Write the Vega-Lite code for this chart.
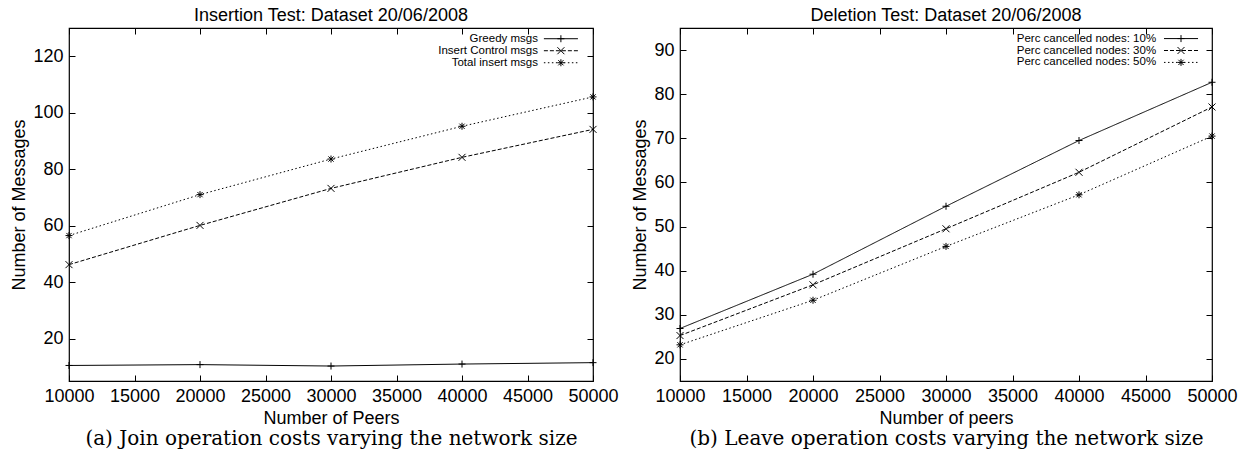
{
  "$schema": "https://vega.github.io/schema/vega-lite/v6.json",
  "background": "white",
  "padding": {"left": 10, "top": 5, "right": 5, "bottom": 3},
  "spacing": 12,
  "datasets": {
    "ins": [
      {"peers": 10000, "msgs": 10.5, "series": "Greedy msgs"},
      {"peers": 20000, "msgs": 10.8, "series": "Greedy msgs"},
      {"peers": 30000, "msgs": 10.3, "series": "Greedy msgs"},
      {"peers": 40000, "msgs": 11.0, "series": "Greedy msgs"},
      {"peers": 50000, "msgs": 11.5, "series": "Greedy msgs"},
      {"peers": 10000, "msgs": 46.2, "series": "Insert Control msgs"},
      {"peers": 20000, "msgs": 60.1, "series": "Insert Control msgs"},
      {"peers": 30000, "msgs": 73.2, "series": "Insert Control msgs"},
      {"peers": 40000, "msgs": 84.2, "series": "Insert Control msgs"},
      {"peers": 50000, "msgs": 94.1, "series": "Insert Control msgs"},
      {"peers": 10000, "msgs": 56.5, "series": "Total insert msgs"},
      {"peers": 20000, "msgs": 71.0, "series": "Total insert msgs"},
      {"peers": 30000, "msgs": 83.6, "series": "Total insert msgs"},
      {"peers": 40000, "msgs": 95.2, "series": "Total insert msgs"},
      {"peers": 50000, "msgs": 105.6, "series": "Total insert msgs"}
    ],
    "del": [
      {"peers": 10000, "msgs": 26.9, "series": "Perc cancelled nodes: 10%"},
      {"peers": 20000, "msgs": 39.2, "series": "Perc cancelled nodes: 10%"},
      {"peers": 30000, "msgs": 54.6, "series": "Perc cancelled nodes: 10%"},
      {"peers": 40000, "msgs": 69.5, "series": "Perc cancelled nodes: 10%"},
      {"peers": 50000, "msgs": 82.7, "series": "Perc cancelled nodes: 10%"},
      {"peers": 10000, "msgs": 25.3, "series": "Perc cancelled nodes: 30%"},
      {"peers": 20000, "msgs": 36.8, "series": "Perc cancelled nodes: 30%"},
      {"peers": 30000, "msgs": 49.5, "series": "Perc cancelled nodes: 30%"},
      {"peers": 40000, "msgs": 62.3, "series": "Perc cancelled nodes: 30%"},
      {"peers": 50000, "msgs": 77.1, "series": "Perc cancelled nodes: 30%"},
      {"peers": 10000, "msgs": 23.2, "series": "Perc cancelled nodes: 50%"},
      {"peers": 20000, "msgs": 33.3, "series": "Perc cancelled nodes: 50%"},
      {"peers": 30000, "msgs": 45.5, "series": "Perc cancelled nodes: 50%"},
      {"peers": 40000, "msgs": 57.2, "series": "Perc cancelled nodes: 50%"},
      {"peers": 50000, "msgs": 70.5, "series": "Perc cancelled nodes: 50%"}
    ]
  },
  "config": {
    "font": "Liberation Sans",
    "view": {"stroke": "black", "strokeWidth": 1.2},
    "axis": {
      "domain": false, "grid": false,
      "tickColor": "black", "tickWidth": 1, "tickSize": -6,
      "labelFont": "Liberation Sans", "labelFontSize": 18, "labelColor": "black",
      "labelOverlap": false, "labelFlush": false,
      "titleFont": "Liberation Sans", "titleFontSize": 18, "titleFontWeight": "normal", "titleColor": "black",
      "labelPadding": 12, "titlePadding": 4
    },
    "title": {"font": "Liberation Sans", "fontSize": 18, "fontWeight": "normal", "color": "black"},
    "point": {"filled": false, "color": "black", "size": 49, "strokeWidth": 1, "opacity": 1},
    "rule": {"color": "black", "strokeWidth": 1},
    "text": {"font": "Liberation Sans", "fontSize": 11.5, "color": "black", "align": "right", "baseline": "middle"}
  },
  "hconcat": [
    {
      "width": 524, "height": 353,
      "title": {"text": "Insertion Test: Dataset 20/06/2008", "offset": 3},
      "data": {"name": "ins"},
      "layer": [
        {
          "mark": {"type": "line", "color": "black", "strokeWidth": 1},
          "encoding": {
            "x": {"field": "peers", "type": "quantitative", "scale": {"domain": [10000, 50000], "nice": false, "zero": false}, "axis": {"title": "Number of Peers", "values": [10000, 15000, 20000, 25000, 30000, 35000, 40000, 45000, 50000], "format": "d"}},
            "y": {"field": "msgs", "type": "quantitative", "scale": {"domain": [5, 130], "nice": false, "zero": false}, "axis": {"title": "Number of Messages", "values": [20, 40, 60, 80, 100, 120]}},
            "strokeDash": {"field": "series", "type": "nominal", "legend": null,
              "scale": {"domain": ["Greedy msgs", "Insert Control msgs", "Total insert msgs"], "range": [[1, 0], [4, 2], [1.5, 2.5]]}}
          }
        },
        {
          "transform": [{"filter": "datum.series === 'Greedy msgs'"}],
          "mark": {"type": "point", "shape": "M-1,0L1,0M0,-1L0,1"},
          "encoding": {"x": {"field": "peers", "type": "quantitative", "axis": null}, "y": {"field": "msgs", "type": "quantitative", "axis": null}}
        },
        {
          "transform": [{"filter": "datum.series === 'Insert Control msgs'"}],
          "mark": {"type": "point", "shape": "M-1,-1L1,1M-1,1L1,-1"},
          "encoding": {"x": {"field": "peers", "type": "quantitative", "axis": null}, "y": {"field": "msgs", "type": "quantitative", "axis": null}}
        },
        {
          "transform": [{"filter": "datum.series === 'Total insert msgs'"}],
          "mark": {"type": "point", "shape": "M-1,0L1,0M0,-1L0,1M-0.75,-0.75L0.75,0.75M-0.75,0.75L0.75,-0.75"},
          "encoding": {"x": {"field": "peers", "type": "quantitative", "axis": null}, "y": {"field": "msgs", "type": "quantitative", "axis": null}}
        },
        {
          "transform": [{"filter": "datum.series === 'Greedy msgs'"}, {"aggregate": [{"op": "count", "as": "n"}], "groupby": ["series"]}],
          "layer": [
            {"mark": {"type": "text"}, "encoding": {"x": {"datum": 45800, "type": "quantitative", "axis": null}, "y": {"datum": 126.2, "type": "quantitative", "axis": null}, "text": {"field": "series"}}},
            {"mark": {"type": "rule"}, "encoding": {"x": {"datum": 46250, "type": "quantitative", "axis": null}, "x2": {"datum": 48850}, "y": {"datum": 126.2, "type": "quantitative", "axis": null}}},
            {"mark": {"type": "point", "shape": "M-1,0L1,0M0,-1L0,1"}, "encoding": {"x": {"datum": 47550, "type": "quantitative", "axis": null}, "y": {"datum": 126.2, "type": "quantitative", "axis": null}}}
          ]
        },
        {
          "transform": [{"filter": "datum.series === 'Insert Control msgs'"}, {"aggregate": [{"op": "count", "as": "n"}], "groupby": ["series"]}],
          "layer": [
            {"mark": {"type": "text"}, "encoding": {"x": {"datum": 45800, "type": "quantitative", "axis": null}, "y": {"datum": 121.95, "type": "quantitative", "axis": null}, "text": {"field": "series"}}},
            {"mark": {"type": "rule", "strokeDash": [4, 2]}, "encoding": {"x": {"datum": 46250, "type": "quantitative", "axis": null}, "x2": {"datum": 48850}, "y": {"datum": 121.95, "type": "quantitative", "axis": null}}},
            {"mark": {"type": "point", "shape": "M-1,-1L1,1M-1,1L1,-1"}, "encoding": {"x": {"datum": 47550, "type": "quantitative", "axis": null}, "y": {"datum": 121.95, "type": "quantitative", "axis": null}}}
          ]
        },
        {
          "transform": [{"filter": "datum.series === 'Total insert msgs'"}, {"aggregate": [{"op": "count", "as": "n"}], "groupby": ["series"]}],
          "layer": [
            {"mark": {"type": "text"}, "encoding": {"x": {"datum": 45800, "type": "quantitative", "axis": null}, "y": {"datum": 117.7, "type": "quantitative", "axis": null}, "text": {"field": "series"}}},
            {"mark": {"type": "rule", "strokeDash": [1.5, 2.5]}, "encoding": {"x": {"datum": 46250, "type": "quantitative", "axis": null}, "x2": {"datum": 48850}, "y": {"datum": 117.7, "type": "quantitative", "axis": null}}},
            {"mark": {"type": "point", "shape": "M-1,0L1,0M0,-1L0,1M-0.75,-0.75L0.75,0.75M-0.75,0.75L0.75,-0.75"}, "encoding": {"x": {"datum": 47550, "type": "quantitative", "axis": null}, "y": {"datum": 117.7, "type": "quantitative", "axis": null}}}
          ]
        },
        {
          "mark": {"type": "point", "opacity": 0},
          "encoding": {
            "x": {"field": "peers", "type": "quantitative", "axis": {"orient": "top", "labels": false, "title": null, "values": [10000, 15000, 20000, 25000, 30000, 35000, 40000, 45000, 50000]}},
            "y": {"field": "msgs", "type": "quantitative", "axis": {"orient": "right", "labels": false, "title": null, "values": [20, 40, 60, 80, 100, 120]}}
          }
        },
        {
          "mark": {"type": "point", "opacity": 0},
          "encoding": {
            "x": {"field": "peers", "type": "quantitative", "axis": {"orient": "bottom", "labels": false, "ticks": false, "title": "(a) Join operation costs varying the network size", "titleFont": "DejaVu Serif", "titleFontSize": 20, "titlePadding": 47}}
          }
        }
      ],
      "resolve": {"axis": {"x": "independent", "y": "independent"}}
    },
    {
      "width": 532, "height": 353,
      "title": {"text": "Deletion Test: Dataset 20/06/2008", "offset": 3},
      "data": {"name": "del"},
      "layer": [
        {
          "mark": {"type": "line", "color": "black", "strokeWidth": 1},
          "encoding": {
            "x": {"field": "peers", "type": "quantitative", "scale": {"domain": [10000, 50000], "nice": false, "zero": false}, "axis": {"title": "Number of peers", "values": [10000, 15000, 20000, 25000, 30000, 35000, 40000, 45000, 50000], "format": "d"}},
            "y": {"field": "msgs", "type": "quantitative", "scale": {"domain": [15, 95], "nice": false, "zero": false}, "axis": {"title": "Number of Messages", "values": [20, 30, 40, 50, 60, 70, 80, 90]}},
            "strokeDash": {"field": "series", "type": "nominal", "legend": null,
              "scale": {"domain": ["Perc cancelled nodes: 10%", "Perc cancelled nodes: 30%", "Perc cancelled nodes: 50%"], "range": [[1, 0], [4, 2], [1.5, 2.5]]}}
          }
        },
        {
          "transform": [{"filter": "datum.series === 'Perc cancelled nodes: 10%'"}],
          "mark": {"type": "point", "shape": "M-1,0L1,0M0,-1L0,1"},
          "encoding": {"x": {"field": "peers", "type": "quantitative", "axis": null}, "y": {"field": "msgs", "type": "quantitative", "axis": null}}
        },
        {
          "transform": [{"filter": "datum.series === 'Perc cancelled nodes: 30%'"}],
          "mark": {"type": "point", "shape": "M-1,-1L1,1M-1,1L1,-1"},
          "encoding": {"x": {"field": "peers", "type": "quantitative", "axis": null}, "y": {"field": "msgs", "type": "quantitative", "axis": null}}
        },
        {
          "transform": [{"filter": "datum.series === 'Perc cancelled nodes: 50%'"}],
          "mark": {"type": "point", "shape": "M-1,0L1,0M0,-1L0,1M-0.75,-0.75L0.75,0.75M-0.75,0.75L0.75,-0.75"},
          "encoding": {"x": {"field": "peers", "type": "quantitative", "axis": null}, "y": {"field": "msgs", "type": "quantitative", "axis": null}}
        },
        {
          "transform": [{"filter": "datum.series === 'Perc cancelled nodes: 10%'"}, {"aggregate": [{"op": "count", "as": "n"}], "groupby": ["series"]}],
          "layer": [
            {"mark": {"type": "text"}, "encoding": {"x": {"datum": 45800, "type": "quantitative", "axis": null}, "y": {"datum": 92.6, "type": "quantitative", "axis": null}, "text": {"field": "series"}}},
            {"mark": {"type": "rule"}, "encoding": {"x": {"datum": 46390, "type": "quantitative", "axis": null}, "x2": {"datum": 48950}, "y": {"datum": 92.6, "type": "quantitative", "axis": null}}},
            {"mark": {"type": "point", "shape": "M-1,0L1,0M0,-1L0,1"}, "encoding": {"x": {"datum": 47670, "type": "quantitative", "axis": null}, "y": {"datum": 92.6, "type": "quantitative", "axis": null}}}
          ]
        },
        {
          "transform": [{"filter": "datum.series === 'Perc cancelled nodes: 30%'"}, {"aggregate": [{"op": "count", "as": "n"}], "groupby": ["series"]}],
          "layer": [
            {"mark": {"type": "text"}, "encoding": {"x": {"datum": 45800, "type": "quantitative", "axis": null}, "y": {"datum": 89.9, "type": "quantitative", "axis": null}, "text": {"field": "series"}}},
            {"mark": {"type": "rule", "strokeDash": [4, 2]}, "encoding": {"x": {"datum": 46390, "type": "quantitative", "axis": null}, "x2": {"datum": 48950}, "y": {"datum": 89.9, "type": "quantitative", "axis": null}}},
            {"mark": {"type": "point", "shape": "M-1,-1L1,1M-1,1L1,-1"}, "encoding": {"x": {"datum": 47670, "type": "quantitative", "axis": null}, "y": {"datum": 89.9, "type": "quantitative", "axis": null}}}
          ]
        },
        {
          "transform": [{"filter": "datum.series === 'Perc cancelled nodes: 50%'"}, {"aggregate": [{"op": "count", "as": "n"}], "groupby": ["series"]}],
          "layer": [
            {"mark": {"type": "text"}, "encoding": {"x": {"datum": 45800, "type": "quantitative", "axis": null}, "y": {"datum": 87.2, "type": "quantitative", "axis": null}, "text": {"field": "series"}}},
            {"mark": {"type": "rule", "strokeDash": [1.5, 2.5]}, "encoding": {"x": {"datum": 46390, "type": "quantitative", "axis": null}, "x2": {"datum": 48950}, "y": {"datum": 87.2, "type": "quantitative", "axis": null}}},
            {"mark": {"type": "point", "shape": "M-1,0L1,0M0,-1L0,1M-0.75,-0.75L0.75,0.75M-0.75,0.75L0.75,-0.75"}, "encoding": {"x": {"datum": 47670, "type": "quantitative", "axis": null}, "y": {"datum": 87.2, "type": "quantitative", "axis": null}}}
          ]
        },
        {
          "mark": {"type": "point", "opacity": 0},
          "encoding": {
            "x": {"field": "peers", "type": "quantitative", "axis": {"orient": "top", "labels": false, "title": null, "values": [10000, 15000, 20000, 25000, 30000, 35000, 40000, 45000, 50000]}},
            "y": {"field": "msgs", "type": "quantitative", "axis": {"orient": "right", "labels": false, "title": null, "values": [20, 30, 40, 50, 60, 70, 80, 90]}}
          }
        },
        {
          "mark": {"type": "point", "opacity": 0},
          "encoding": {
            "x": {"field": "peers", "type": "quantitative", "axis": {"orient": "bottom", "labels": false, "ticks": false, "title": "(b) Leave operation costs varying the network size", "titleFont": "DejaVu Serif", "titleFontSize": 20, "titlePadding": 47}}
          }
        }
      ],
      "resolve": {"axis": {"x": "independent", "y": "independent"}}
    }
  ]
}
